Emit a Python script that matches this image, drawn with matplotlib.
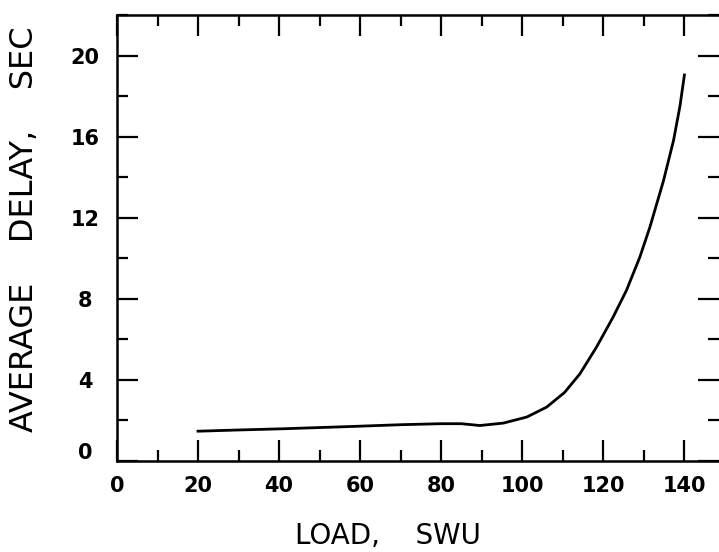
import matplotlib
matplotlib.use("Agg")
import matplotlib.pyplot as plt
import matplotlib.transforms as mtransforms
from matplotlib.ticker import MultipleLocator

# delay curve
load_swu = [20, 30, 41, 57.5, 70, 80, 85, 89.6, 95.4, 101.2, 106.1, 110.5, 114.3,
            118.4, 122.5, 125.8, 129.1, 131.6, 134.9, 137.4, 139, 140.1]
avg_delay = [1.47, 1.53, 1.59, 1.70, 1.79, 1.84, 1.84, 1.75, 1.87, 2.17, 2.66, 3.38, 4.3,
             5.62, 7.1, 8.42, 10.06, 11.55, 13.8, 15.8, 17.5, 19.04]

x_ticks = [0, 20, 40, 60, 80, 100, 120, 140]
y_ticks = [0, 4, 8, 12, 16, 20]

W, H = 719, 552
fig = plt.figure(figsize=(W / 100, H / 100), dpi=100)
left, right, bottom, top = 117, 719, 461, 15
ax = fig.add_axes([left / W, (H - bottom) / H, (right - left) / W, (bottom - top) / H])

ax.plot(load_swu, avg_delay, color="black", linewidth=2.0, solid_joinstyle="round")

px_per_x = 4.05
ax.set_xlim(0, (right - left) / px_per_x)
ax.set_ylim(0, 22)
ax.set_xticks(x_ticks)
ax.set_yticks(y_ticks)
ax.xaxis.set_minor_locator(MultipleLocator(10))
ax.yaxis.set_minor_locator(MultipleLocator(2))

for s in ["left", "bottom", "top"]:
    ax.spines[s].set_linewidth(1.8)
ax.spines["right"].set_visible(False)

ax.tick_params(which="both", direction="in", top=True, right=True, width=1.6)
ax.tick_params(which="major", length=15)
ax.tick_params(which="minor", length=8)
ax.tick_params(axis="x", which="major", pad=11, labelsize=15)
ax.tick_params(axis="y", which="major", pad=23, labelsize=15)

for lab in ax.get_xticklabels() + ax.get_yticklabels():
    lab.set_fontweight("bold")
for lab in ax.get_yticklabels():
    lab.set_horizontalalignment("center")
# nudge the "0" label up off the bottom axis
zero = ax.get_yticklabels()[0]
zero.set_transform(zero.get_transform() + mtransforms.ScaledTranslation(0, 7 / 72, fig.dpi_scale_trans))

ax.set_xlabel("LOAD,    SWU", fontsize=20)
ax.set_ylabel("AVERAGE    DELAY,    SEC", fontsize=23)
ax.xaxis.set_label_coords((388 - left) / (right - left), (bottom - 536) / (bottom - top))
ax.yaxis.set_label_coords((25 - left) / (right - left), (bottom - 229) / (bottom - top))
ax.xaxis.label.set_verticalalignment("center")
ax.yaxis.label.set_verticalalignment("center")

fig.savefig("out.png", dpi=100)
